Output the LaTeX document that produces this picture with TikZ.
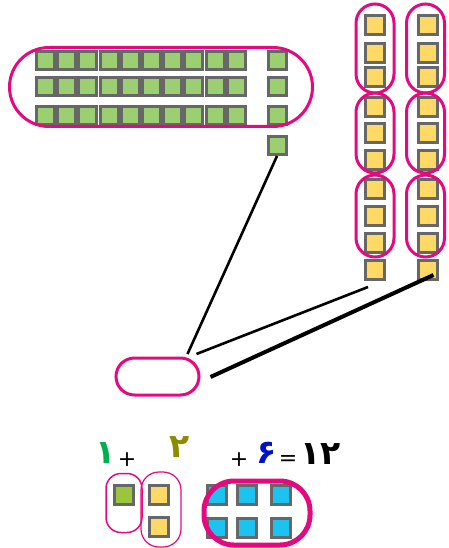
\documentclass[tikz,border=0pt]{standalone}
\usepackage{fontspec}
\newfontfamily\digitfont{DejaVu Sans}
\definecolor{sqgray}{HTML}{676767}
\definecolor{gridgreen}{HTML}{9BCF72}
\definecolor{limegreen}{HTML}{9BC53A}
\definecolor{sqyellow}{HTML}{FFD966}
\definecolor{sqblue}{HTML}{1DC3F0}
\definecolor{ovpink}{HTML}{E5097F}
\definecolor{dgreen}{HTML}{00B050}
\definecolor{dolive}{HTML}{8C8C00}
\definecolor{dblue}{HTML}{0010C8}
\begin{document}
\begin{tikzpicture}[x=1pt,y=-1pt,
  sq/.style={draw=sqgray, line width=3pt, minimum size=19pt, inner sep=0pt},
  gsq/.style={sq, fill=gridgreen, minimum size=18pt},
  ysq/.style={sq, fill=sqyellow},
  bsq/.style={sq, fill=sqblue},
  oval/.style={draw=ovpink, line width=3pt, rectangle, inner sep=0pt},
  conn/.style={line width=2.6pt, black},
  digit/.style={font=\digitfont\bfseries\fontsize{33}{34}\selectfont, inner sep=0pt},
  sign/.style={font=\digitfont\fontsize{22}{23}\selectfont, inner sep=0pt}]
\useasboundingbox (0,0) rectangle (448,548);

% green grid
\foreach \r/\y in {1/60.5,2/86.5,3/115.5}{
  \foreach \c in {0,...,9}{
    \node[gsq] (g\r-\c) at ({45.5+21.2*\c},\y) {};
  }
}
\foreach \r/\y in {1/60.5,2/86.5,3/115.5,4/145.5}{
  \node[gsq] (g\r) at (277,\y) {};
}
\node[oval, minimum width=303pt, minimum height=79pt, rounded corners=39.5pt] (gov) at (161,87) {};

% yellow columns
\foreach \i/\y in {1/25.5,2/53,3/77.5,4/107.5,5/133.5,6/160,7/188.5,8/216,9/243,10/269.5}{
  \node[ysq] (yl\i) at (375,\y) {};
  \node[ysq] (yr\i) at (427.5,\y) {};
}
\foreach \k/\yc/\h in {1/48.5/89,2/133/80,3/216/82}{
  \node[oval, minimum width=38pt, minimum height=\h pt, rounded corners=19pt] (ovl\k) at (375,\yc) {};
  \node[oval, minimum width=38pt, minimum height=\h pt, rounded corners=19pt] (ovr\k) at (425.5,\yc) {};
}

% empty answer oval
\node[oval, minimum width=83pt, minimum height=37pt, rounded corners=18.5pt] (ans) at (157.5,376.5) {};

% connectors
\coordinate (e1) at (187.5,354);
\coordinate (s2) at (196.5,354);
\coordinate (e2) at (368,287);
\coordinate (s3) at (210.5,377);
\coordinate (e3) at (433.5,275);
\draw[conn] (g4.south) -- (e1);
\draw[conn] (s2) -- (e2);
\draw[conn, line width=4pt] (s3) -- (e3);

% equation
\node[digit, text=dgreen] (d1) at (106,453) {۱};
\node[sign] (p1) at (127,460) {+};
\node[digit, text=dolive] (d2) at (180,447) {۲};
\node[sign] (p2) at (239,460) {+};
\node[digit, text=dblue] (d6) at (267,453) {۶};
\node[sign] (eq) at (288,460) {=};
\node[digit, text=black] (d12) at (321,454) {۱۲};

% bottom squares
\node[sq, fill=limegreen] (bg) at (123.5,494.5) {};
\node[ysq] (by1) at (159,494.5) {};
\node[ysq] (by2) at (159,527) {};
\foreach \c/\x in {1/217,2/247,3/280.5}{
  \node[bsq] (bb1-\c) at (\x,494.5) {};
  \node[bsq] (bb2-\c) at (\x,528) {};
}
\node[oval, line width=1.5pt, minimum width=36pt, minimum height=59pt, rounded corners=15pt] (ovg) at (124,503) {};
\node[oval, line width=1.2pt, minimum width=40pt, minimum height=75pt, rounded corners=18pt] (ovy) at (161,509.5) {};
\node[oval, line width=5pt, minimum width=106pt, minimum height=64pt, rounded corners=30pt] (ovb) at (257,513) {};
\end{tikzpicture}
\end{document}
